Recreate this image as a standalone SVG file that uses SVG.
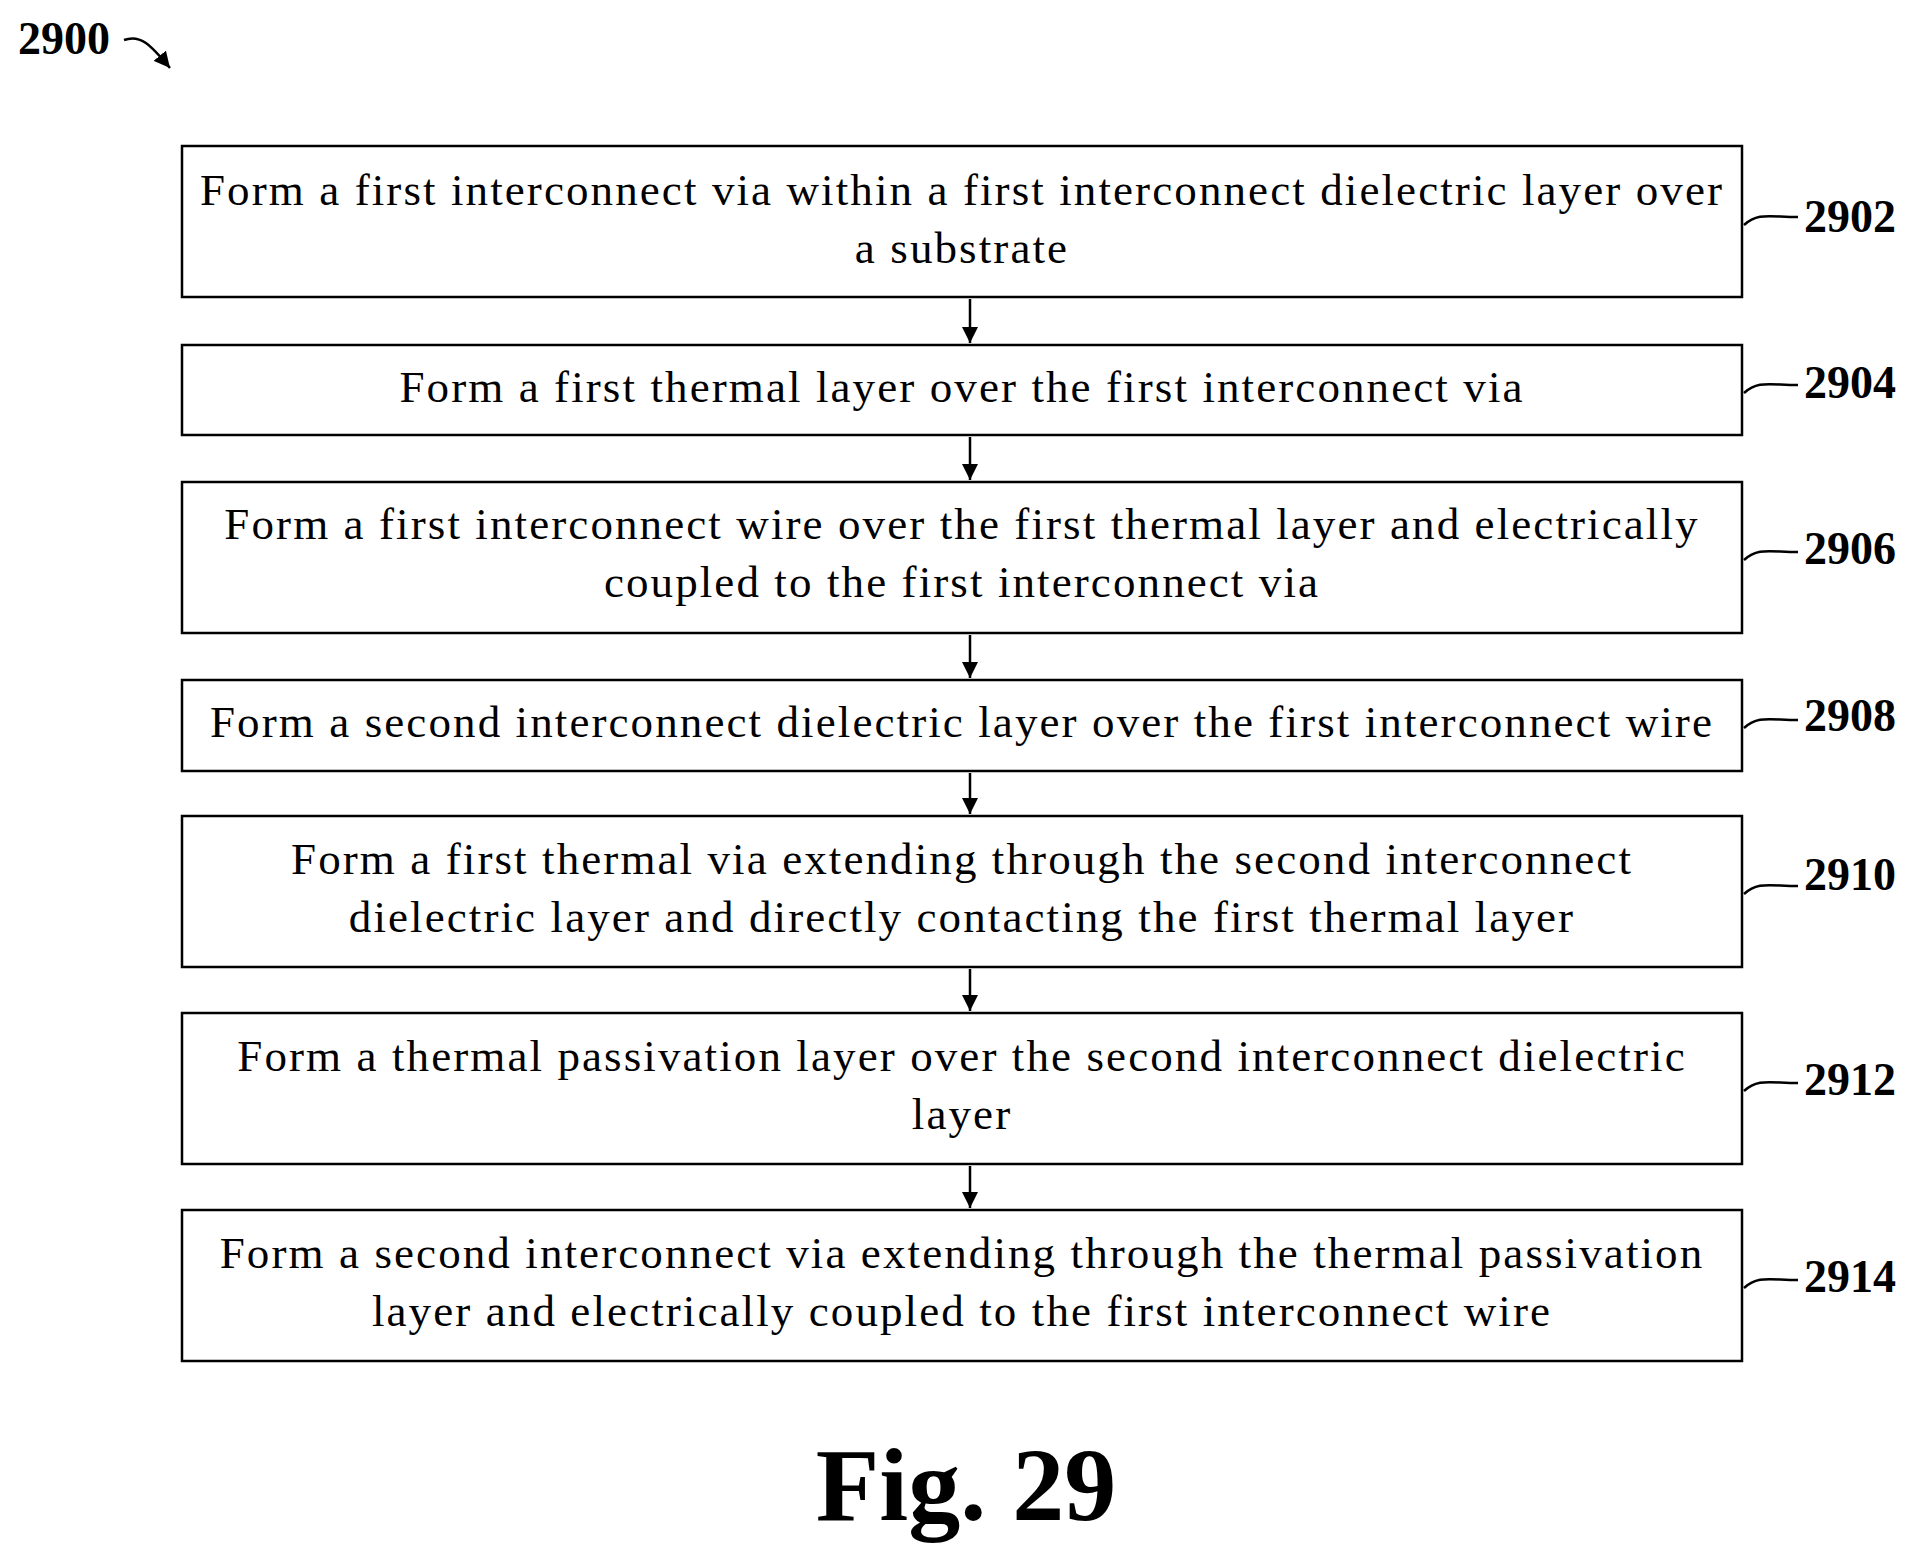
<svg xmlns="http://www.w3.org/2000/svg" width="1914" height="1557" viewBox="0 0 1914 1557">
<style>
.box{fill:#fff;stroke:#000;stroke-width:2.5}
.t{font-family:"Liberation Serif",serif;font-size:45px;letter-spacing:2.1px;text-anchor:middle}
.lb{font-family:"Liberation Serif",serif;font-size:46px;font-weight:bold}
.c{fill:none;stroke:#000;stroke-width:2.5}
</style>
<defs>
<marker id="a" viewBox="0 0 10 10" refX="10" refY="5" markerWidth="16" markerHeight="16" orient="auto" markerUnits="userSpaceOnUse"><path d="M0,0 L10,5 L0,10 Z"/></marker></defs>
<rect width="1914" height="1557" fill="#fff"/>
<text class="lb" x="18" y="54">2900</text>
<g id="n2902"><rect class="box" x="182" y="146" width="1560" height="151"/><text class="t" x="962" y="205">Form a first interconnect via within a first interconnect dielectric layer over</text><text class="t" x="962" y="263">a substrate</text><path class="c" d="M1744,225 C1758,212 1770,217 1798,217"/><text class="lb" x="1804" y="232">2902</text></g>
<g id="n2904"><rect class="box" x="182" y="345" width="1560" height="90"/><text class="t" x="962" y="402">Form a first thermal layer over the first interconnect via</text><path class="c" d="M1744,393 C1758,380 1770,385 1798,385"/><text class="lb" x="1804" y="398">2904</text></g>
<g id="n2906"><rect class="box" x="182" y="482" width="1560" height="151"/><text class="t" x="962" y="539">Form a first interconnect wire over the first thermal layer and electrically</text><text class="t" x="962" y="597">coupled to the first interconnect via</text><path class="c" d="M1744,560 C1758,547 1770,552 1798,552"/><text class="lb" x="1804" y="564">2906</text></g>
<g id="n2908"><rect class="box" x="182" y="680" width="1560" height="91"/><text class="t" x="962" y="737">Form a second interconnect dielectric layer over the first interconnect wire</text><path class="c" d="M1744,728 C1758,715 1770,720 1798,720"/><text class="lb" x="1804" y="731">2908</text></g>
<g id="n2910"><rect class="box" x="182" y="816" width="1560" height="151"/><text class="t" x="962" y="874">Form a first thermal via extending through the second interconnect</text><text class="t" x="962" y="932">dielectric layer and directly contacting the first thermal layer</text><path class="c" d="M1744,894 C1758,881 1770,886 1798,886"/><text class="lb" x="1804" y="890">2910</text></g>
<g id="n2912"><rect class="box" x="182" y="1013" width="1560" height="151"/><text class="t" x="962" y="1071">Form a thermal passivation layer over the second interconnect dielectric</text><text class="t" x="962" y="1129">layer</text><path class="c" d="M1744,1091 C1758,1078 1770,1083 1798,1083"/><text class="lb" x="1804" y="1095">2912</text></g>
<g id="n2914"><rect class="box" x="182" y="1210" width="1560" height="151"/><text class="t" x="962" y="1268">Form a second interconnect via extending through the thermal passivation</text><text class="t" x="962" y="1326">layer and electrically coupled to the first interconnect wire</text><path class="c" d="M1744,1288 C1758,1275 1770,1280 1798,1280"/><text class="lb" x="1804" y="1292">2914</text></g>
<g id="connectors">
<path class="c" d="M970,299 V343" marker-end="url(#a)"/>
<path class="c" d="M970,437 V480" marker-end="url(#a)"/>
<path class="c" d="M970,635 V678" marker-end="url(#a)"/>
<path class="c" d="M970,773 V814" marker-end="url(#a)"/>
<path class="c" d="M970,969 V1011" marker-end="url(#a)"/>
<path class="c" d="M970,1166 V1208" marker-end="url(#a)"/>
<path class="c" d="M124,40 C140,34 150,44 170,68" marker-end="url(#a)"/>
</g>
<text x="966" y="1520" style="font-family:'Liberation Serif',serif;font-size:104px;font-weight:bold;text-anchor:middle">Fig. 29</text>
</svg>
